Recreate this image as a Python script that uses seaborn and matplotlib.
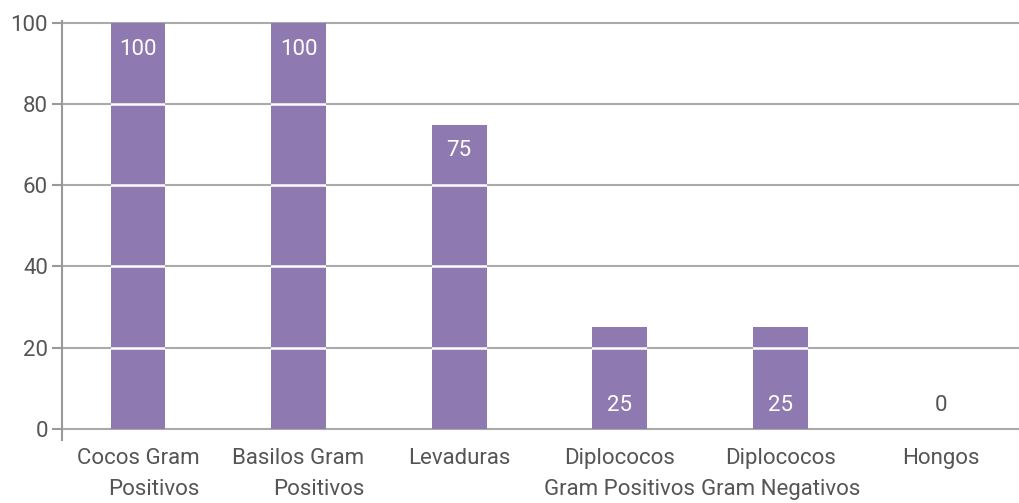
import matplotlib
matplotlib.use("Agg")
import matplotlib.pyplot as plt
import seaborn as sns
import pandas as pd

categories = ["Cocos Gram\nPositivos", "Basilos Gram\nPositivos", "Levaduras",
              "Diplococos\nGram Positivos", "Diplococos\nGram Negativos", "Hongos"]
values = [100, 100, 75, 25, 25, 0]
yticks = [0, 20, 40, 60, 80, 100]

sns.set_theme(style="white")
plt.rcParams['font.family'] = ['Roboto', 'DejaVu Sans']

BAR = "#8f79b1"
GRID = "#aaaaaa"
TXT = "#555555"

df = pd.DataFrame({"cat": categories, "val": values})

fig = plt.figure(figsize=(10.19, 5.03), dpi=100)
ax = fig.add_axes([62/1019, 1 - 440/503, 1 - 62/1019, (440 - 21.5)/503])

sns.barplot(data=df, x="cat", y="val", color=BAR, saturation=1, width=0.342,
            ax=ax, zorder=2, linewidth=0)

ax.set_xlim(-0.473, 5.486)
ax.set_ylim(-2.8, 100.4)
ax.set_yticks(yticks)
ax.set_yticklabels([str(t) for t in yticks])
for t in yticks:
    ax.axhline(t, color=GRID, lw=1.5, zorder=1)

# white grid lines across bars
for p in ax.patches:
    for t in yticks[1:-1]:
        ln = ax.axhline(t, color="white", lw=1.8, zorder=3)
        ln.set_clip_path(p)

for i, v in enumerate(values):
    if v >= 50:
        y = v - 6.5
    else:
        y = 5.6
    col = "white" if v > 0 else TXT
    ax.text(i, y, str(v), ha="center", va="center", color=col, fontsize=16, zorder=4)

ax.set_xlabel("")
ax.set_ylabel("")
for s in ["top", "right", "bottom"]:
    ax.spines[s].set_visible(False)
ax.spines["left"].set_color("#999999")
ax.spines["left"].set_linewidth(1.5)
ax.tick_params(axis="y", length=7.2, width=1.5, color="#999999", labelcolor=TXT,
               labelsize=16, pad=3, left=True)
ax.tick_params(axis="x", length=0, labelcolor=TXT, labelsize=16, pad=6)
for i, lab in enumerate(ax.get_xticklabels()):
    lab.set_multialignment("right" if i < 2 else "center")
    lab.set_linespacing(1.6)

fig.savefig("out.png", dpi=100)
